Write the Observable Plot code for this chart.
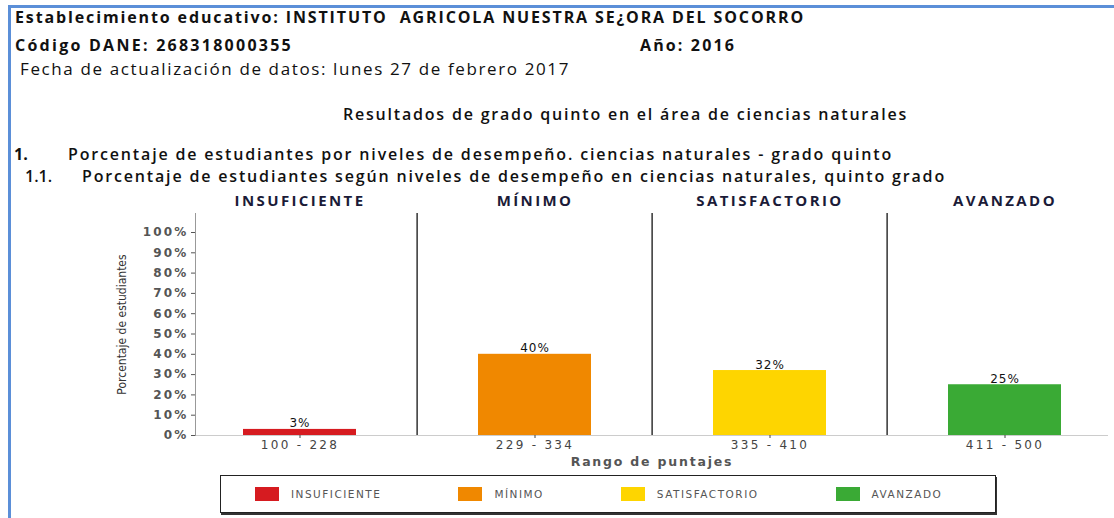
<!DOCTYPE html>
<html><head><meta charset="utf-8">
<script src="https://cdn.jsdelivr.net/npm/d3@7"></script>
<script src="https://cdn.jsdelivr.net/npm/@observablehq/plot@0.6"></script>
<style>
body{margin:0;background:#fff;width:1114px;height:518px;overflow:hidden;position:relative;font-family:"Open Sans",sans-serif}
.t{position:absolute;white-space:pre;line-height:20px;color:#111;font-size:16px;font-weight:700}
.bl{position:absolute;background:#5b8fd8}
#chart{position:absolute;left:0;top:185px}
#legendbox{position:absolute;left:220px;top:475px;width:776px;height:38px;border:1px solid #222;box-shadow:1px 2px 0 #333;display:flex;align-items:center;padding-left:34px;box-sizing:border-box;background:#fff;overflow:hidden}
#legendbox .lg-swatches{margin:0 !important;min-height:0 !important;flex-wrap:nowrap !important;white-space:nowrap}
#legendbox .lg-swatch{margin-right:77px !important;font:10.5px "DejaVu Sans";letter-spacing:1.5px;color:#555;flex:none}
#legendbox .lg-swatch:last-child{margin-right:0 !important}
#legendbox .lg-swatch > svg{margin-right:12px !important}
g[aria-label="y-axis tick label"] text{letter-spacing:2.2px}
g[aria-label="x-axis tick label"] text{letter-spacing:2.3px}
g[aria-description="value"] text{letter-spacing:1px}
g[aria-description="level"] text{letter-spacing:2.4px}
g[aria-description="xtitle"] text{letter-spacing:1.8px}
</style></head>
<body>
<div class="bl" style="left:8px;top:5px;width:3px;height:513px"></div>
<div class="bl" style="left:8px;top:5px;width:1106px;height:3px"></div>
<div class="t" data-w="790" style="left:15px;top:7px">Establecimiento educativo: INSTITUTO  AGRICOLA NUESTRA SE¿ORA DEL SOCORRO</div>
<div class="t" data-w="278" style="left:15px;top:35px">Código DANE: 268318000355</div>
<div class="t" data-w="96" style="left:640px;top:35px">Año: 2016</div>
<div class="t" data-w="550" style="left:20px;top:59px;font-weight:400;font-size:17px">Fecha de actualización de datos: lunes 27 de febrero 2017</div>
<div class="t" data-w="565" style="left:343px;top:104px;font-weight:600">Resultados de grado quinto en el área de ciencias naturales</div>
<div class="t" style="left:14px;top:144px">1.</div>
<div class="t" data-w="825" style="left:68px;top:144px;font-weight:600">Porcentaje de estudiantes por niveles de desempeño. ciencias naturales - grado quinto</div>
<div class="t" style="left:25px;top:166px;font-weight:600">1.1.</div>
<div class="t" data-w="864" style="left:82px;top:166px;font-weight:600">Porcentaje de estudiantes según niveles de desempeño en ciencias naturales, quinto grado</div>
<div id="chart"></div>
<div id="legendbox"></div>
<script>
const levels = ["INSUFICIENTE", "MÍNIMO", "SATISFACTORIO", "AVANZADO"];
const ranges = ["100 - 228", "229 - 334", "335 - 410", "411 - 500"];
const percents = [3, 40, 32, 25];
const colors = ["#d61b20", "#f08800", "#fed500", "#3aaa35"];
const yTicks = [0, 10, 20, 30, 40, 50, 60, 70, 80, 90, 100];
const yTitle = "Porcentaje de estudiantes";
const xTitle = "Rango de puntajes";

const rows = ranges.map((r, i) => ({range: r, level: levels[i], pct: percents[i]}));
const xRange = [180, 1123];
const step = (xRange[1] - xRange[0]) / ranges.length;

const plot = Plot.plot({
  width: 1114, height: 285,
  marginTop: 28, marginBottom: 35, marginLeft: 195, marginRight: 6,
  style: {fontFamily: "DejaVu Sans", fontSize: "12px", color: "#555", background: "transparent", overflow: "visible"},
  x: {type: "band", domain: ranges, range: xRange, padding: 0},
  y: {domain: [0, 100], range: [250, 47]},
  color: {domain: levels, range: colors},
  marks: [
    Plot.ruleY([0], {stroke: "#ccc"}),
    Plot.frame({anchor: "left", stroke: "#999"}),
    Plot.ruleX(ranges.slice(1), {dx: -step / 2, stroke: "#333", strokeWidth: 1.5}),
    Plot.axisY({ticks: yTicks, tickFormat: d => d + "%", tickSize: 4, tickPadding: 3, fontWeight: "bold", label: null, color: "#555"}),
    Plot.axisX({tickSize: 3, tickPadding: 2, label: null, color: "#444"}),
    Plot.barY(rows, {x: "range", y: "pct", fill: "level", insetLeft: 61, insetRight: 61}),
    Plot.text(rows, {x: "range", y: "pct", text: d => d.pct + "%", lineAnchor: "bottom", dy: -2, fill: "#111", ariaDescription: "value"}),
    Plot.text(rows, {x: "range", text: "level", frameAnchor: "top", dy: -18, fontFamily: "Open Sans", fontWeight: "bold", fontSize: 15, fill: "#1b1b38", ariaDescription: "level"}),
    Plot.text([yTitle], {frameAnchor: "left", textAnchor: "middle", dx: -73, rotate: -90, text: d => d, fontFamily: "DejaVu Sans Condensed, Roboto Condensed, Liberation Sans Narrow, sans-serif", fontSize: 12, fill: "#333", ariaDescription: "ytitle"}),
    Plot.text([xTitle], {frameAnchor: "bottom", dy: 30, text: d => d, fontWeight: "bold", fontSize: 12.5, fill: "#555", ariaDescription: "xtitle"})
  ]
});
document.getElementById("chart").appendChild(plot);

const legend = Plot.legend({color: {domain: levels, range: colors}, legend: "swatches", swatchWidth: 24, swatchHeight: 14, className: "lg"});
document.getElementById("legendbox").appendChild(legend);

// fit header text widths
document.querySelectorAll(".t[data-w]").forEach(el => {
  const target = +el.dataset.w;
  el.style.letterSpacing = "0px";
  const w = el.getBoundingClientRect().width;
  const n = el.textContent.length;
  el.style.letterSpacing = ((target - w) / n) + "px";
});
</script>
</body></html>
